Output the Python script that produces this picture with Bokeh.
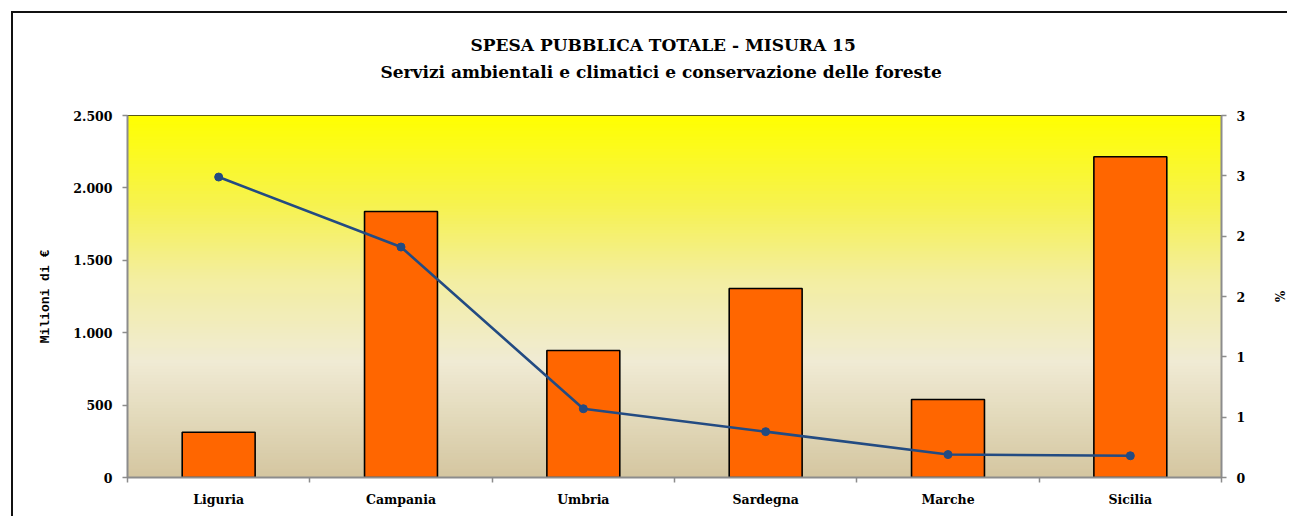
from bokeh.plotting import figure
from bokeh.models import (Range1d, LinearAxis, FixedTicker, BoxAnnotation, Title,
                          ColumnDataSource)
from bokeh.embed import file_html
from bokeh.resources import INLINE

# ---- data ----
regions = ["Liguria", "Campania", "Umbria", "Sardegna", "Marche", "Sicilia"]
spesa = [313, 1837, 877, 1305, 539, 2215]          # Milioni di €
percent = [2.49, 1.91, 0.57, 0.38, 0.19, 0.18]      # %
left_ticks = [0, 500, 1000, 1500, 2000, 2500]
left_labels = ["0", "500", "1.000", "1.500", "2.000", "2.500"]
right_ticks = [0, 0.5, 1, 1.5, 2, 2.5, 3]
right_labels = ["0", "1", "1", "2", "2", "3", "3"]
title1 = "SPESA PUBBLICA TOTALE -  MISURA 15"
title2 = "Servizi ambientali e climatici e conservazione delle foreste"

xc = [i + 0.5 for i in range(len(regions))]
src = ColumnDataSource(dict(x=xc, spesa=spesa, pct=percent, region=regions))

SERIF = "DejaVu Serif"
YMAX = 2500

p = figure(width=1276, height=505, output_backend="svg", toolbar_location=None,
           x_range=Range1d(0, len(regions)), y_range=Range1d(0, YMAX),
           min_border_left=114, min_border_right=61, min_border_top=102,
           min_border_bottom=41)
p.styles = {"margin-left": "11px", "margin-top": "11px",
            "border-left": "2px solid #111", "border-top": "2px solid #111"}
p.background_fill_color = None
p.border_fill_color = "white"
p.outline_line_color = "#222"
p.outline_line_width = 1
p.grid.visible = False

# gradient background (tan at bottom -> cream -> yellow at top)
stops = [(0.0, (212, 198, 160)), (0.32, (240, 235, 212)), (0.55, (243, 238, 160)),
         (0.75, (246, 242, 80)), (1.0, (255, 255, 0))]
def col(t):
    for (t0, c0), (t1, c1) in zip(stops[:-1], stops[1:]):
        if t0 <= t <= t1:
            f = (t - t0) / (t1 - t0)
            return "#%02x%02x%02x" % tuple(int(round(a + (b - a) * f)) for a, b in zip(c0, c1))
    return "#%02x%02x%02x" % stops[-1][1]
n = 120
for i in range(n):
    b = YMAX * i / n
    t = YMAX * (i + 1) / n
    p.add_layout(BoxAnnotation(bottom=b, top=min(YMAX, t + 8), fill_color=col((i + 0.5) / n),
                               fill_alpha=1, line_alpha=0, level="underlay"))

# bars
p.vbar(x="x", top="spesa", width=0.4, source=src, fill_color="#FF6600",
       line_color="black", line_width=1.6)

# percent line on the secondary axis
p.extra_y_ranges = {"pct": Range1d(0, 3)}
p.line(x="x", y="pct", source=src, y_range_name="pct", line_color="#234B82", line_width=2.6)
p.scatter(x="x", y="pct", source=src, y_range_name="pct", size=8,
          fill_color="#234B82", line_color="#234B82")

# axes
def style_axis(ax):
    ax.axis_line_color = "#8c8c8c"
    ax.axis_line_width = 2
    ax.major_tick_line_color = "#8c8c8c"
    ax.major_tick_line_width = 1.5
    ax.major_tick_out = 5
    ax.major_tick_in = 0
    ax.minor_tick_line_color = None
    ax.major_label_text_font = SERIF
    ax.major_label_text_font_style = "bold"
    ax.major_label_text_font_size = "12.5px"
    ax.major_label_text_color = "black"
    ax.axis_label_text_color = "black"

ly = p.yaxis[0]
style_axis(ly)
ly.ticker = FixedTicker(ticks=left_ticks)
ly.major_label_overrides = dict(zip(left_ticks, left_labels))
ly.major_label_standoff = 10
ly.axis_label = "Milioni di €"
ly.axis_label_text_font = "Liberation Mono"
ly.axis_label_text_font_style = "bold"
ly.axis_label_text_font_size = "13px"
ly.axis_label_standoff = 17

ry = LinearAxis(y_range_name="pct", ticker=FixedTicker(ticks=right_ticks))
style_axis(ry)
ry.major_label_overrides = dict(zip(right_ticks, right_labels))
ry.major_label_standoff = 10
ry.axis_label = "%"
ry.axis_label_text_font = SERIF
ry.axis_label_text_font_style = "bold"
ry.axis_label_text_font_size = "12px"
ry.axis_label_standoff = 24
p.add_layout(ry, "right")

lx = p.xaxis[0]
style_axis(lx)
lx.ticker = FixedTicker(ticks=xc, minor_ticks=list(range(len(regions) + 1)))
lx.major_label_overrides = dict(zip(xc, regions))
lx.major_tick_out = 0
lx.minor_tick_line_color = "#8c8c8c"
lx.minor_tick_line_width = 1.5
lx.minor_tick_out = 5
lx.minor_tick_in = 0
lx.major_label_standoff = 9

# invisible spacer between the plot area and the title
spacer = LinearAxis(ticker=FixedTicker(ticks=[0]), axis_line_color=None,
                    major_tick_line_color=None, minor_tick_line_color=None,
                    major_tick_out=31, major_tick_in=0, major_label_standoff=0,
                    major_label_text_font_size="1px", major_label_overrides={0: ""})
p.add_layout(spacer, "above")

# two-line title
t2 = Title(text=title2, align="left", offset=253, standoff=5,
           text_font=SERIF, text_font_style="bold", text_font_size="17px", text_color="black")
t1 = Title(text=title1, align="left", offset=343, standoff=5,
           text_font=SERIF, text_font_style="bold", text_font_size="17px", text_color="black")
p.add_layout(t2, "above")
p.add_layout(t1, "above")

open("out.html", "w").write(file_html(p, INLINE))
